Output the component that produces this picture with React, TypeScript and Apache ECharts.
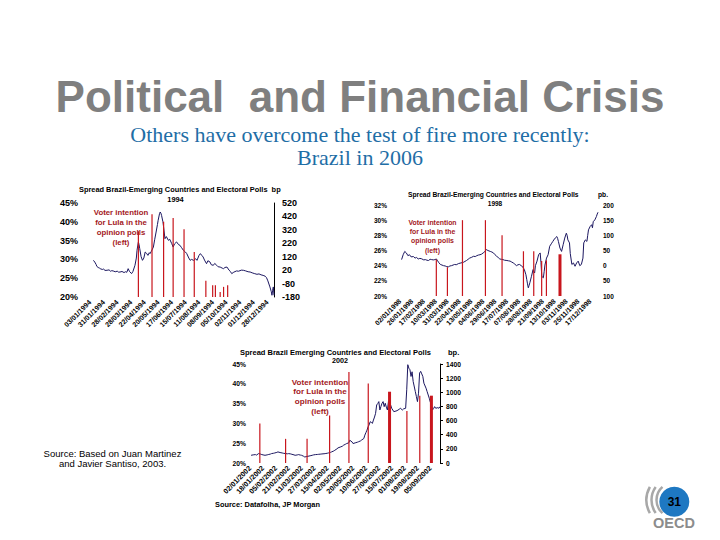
import { useEffect, useRef } from "react";
import * as echarts from "echarts";

// ---- 1994 panel ----
const labels1994 = ["03/01/1994", "31/01/1994", "28/02/1994", "28/03/1994", "22/04/1994", "20/05/1994", "17/06/1994", "15/07/1994", "11/08/1994", "08/09/1994", "05/10/1994", "02/11/1994", "01/12/1994", "28/12/1994"];
// [business day, spread bp]
const spread1994 = [[5, 93], [7, 80], [9, 62], [10, 48], [12, 40], [14, 35], [15, 31], [18, 25], [20, 28], [22, 18], [25, 19], [28, 22], [30, 12], [32, 16], [34, 14], [37, 8], [40, 12], [42, 5], [44, 6], [47, 10], [50, 2], [52, 8], [54, 4], [56, 31], [58, 10], [61, -6], [63, 10], [66, 56], [68, 110], [69, 168], [70, 200], [71, 230], [72, 210], [73, 180], [75, 120], [77, 93], [79, 110], [81, 155], [83, 145], [85, 130], [87, 150], [88, 143], [90, 160], [93, 192], [95, 250], [97, 304], [99, 360], [100, 391], [102, 440], [103, 453], [104, 445], [105, 428], [107, 380], [108, 341], [110, 254], [112, 270], [115, 242], [117, 250], [120, 217], [122, 192], [124, 215], [127, 230], [130, 210], [132, 205], [134, 190], [137, 168], [140, 155], [142, 143], [145, 110], [147, 93], [149, 100], [152, 93], [155, 105], [157, 93], [160, 130], [162, 143], [164, 130], [166, 118], [168, 95], [171, 68], [173, 90], [176, 81], [178, 60], [181, 56], [183, 70], [186, 56], [188, 45], [191, 43], [194, 35], [196, 31], [198, 40], [201, 43], [204, 20], [206, 10], [208, -6], [211, 5], [215, 14], [218, 12], [222, 20], [225, 19], [228, 15], [232, 8], [235, 6], [238, 0], [241, -5], [245, -11], [248, -8], [251, -15], [254, -19], [257, -25], [259, -36], [261, -60], [264, -105], [266, -140], [267, -167], [268, -130], [269, -105], [270, -167]];
// [business day, % voter intention]
const polls1994 = [[71, 37.5], [91, 42], [108, 40], [122, 41], [138, 38], [153, 32], [170, 24.3], [180, 23.1], [184, 23.1], [191, 21.3], [196, 22.7], [202, 23.1]];

// ---- 1998 panel ----
const labels1998 = ["02/01/1998", "26/01/1998", "17/02/1998", "10/03/1998", "31/03/1998", "22/04/1998", "13/05/1998", "04/06/1998", "29/06/1998", "17/07/1998", "07/08/1998", "28/08/1998", "21/09/1998", "13/10/1998", "03/11/1998", "25/11/1998", "17/12/1998"];
const spread1998 = [[2, 20], [4, 36], [6, 47], [8, 42], [10, 33], [12, 36], [14, 29], [17, 30], [19, 25], [21, 27], [23, 22], [25, 24], [27, 23], [30, 19], [32, 20], [34, 18], [36, 17], [38, 21], [40, 20], [42, 19], [44, 20], [46, 22], [47, 18], [49, 10], [51, 4], [53, 2], [55, 0], [57, -1], [59, -3], [61, -4], [63, -1], [65, 0], [67, 2], [69, 4], [71, 3], [74, 7], [77, 9], [80, 11], [82, 14], [84, 17], [86, 21], [88, 25], [90, 27], [93, 31], [95, 30], [97, 33], [99, 35], [101, 36], [103, 38], [105, 42], [107, 46], [109, 53], [111, 50], [114, 47], [116, 45], [118, 42], [120, 36], [122, 31], [124, 27], [126, 22], [128, 21], [130, 20], [132, 18], [135, 17], [137, 16], [139, 15], [141, 12], [143, 9], [145, 5], [147, 0], [149, 3], [151, 4], [153, 0], [155, -4], [157, -13], [159, -30], [160, -45], [161, -60], [162, -73], [163, -65], [164, -56], [166, -35], [168, -13], [169, -20], [170, -24], [171, 0], [173, 15], [175, 36], [177, 42], [178, 10], [179, -35], [181, -40], [182, -20], [183, 2], [185, 25], [187, 36], [189, 64], [191, 72], [193, 80], [195, 88], [196, 91], [198, 96], [199, 90], [200, 80], [202, 58], [204, 47], [206, 69], [208, 91], [210, 107], [211, 100], [212, 85], [214, 75], [215, 40], [217, 4], [219, 9], [221, -2], [223, 9], [225, 15], [227, 0], [229, 4], [231, 25], [232, 75], [234, 85], [236, 80], [237, 100], [238, 118], [240, 129], [242, 135], [243, 125], [244, 145], [246, 151], [248, 162], [249, 170], [250, 176]];
const polls1998 = [[47, 24.8], [61, 23.8], [80, 30], [109, 30], [130, 28], [157, 25.9], [170, 25.9], [180, 24.6], [186, 24.7]];
const pollsWide1998 = [[202, 25.5]];

// ---- 2002 panel ----
const labels2002 = ["02/01/2002", "18/01/2002", "05/02/2002", "21/02/2002", "11/03/2002", "27/03/2002", "15/04/2002", "02/05/2002", "20/05/2002", "10/06/2002", "27/06/2002", "15/07/2002", "01/08/2002", "19/08/2002", "05/09/2002"];
const spread2002 = [[1, 109], [3, 115], [5, 119], [6, 112], [8, 133], [10, 125], [11, 119], [13, 112], [14, 109], [16, 115], [17, 119], [19, 126], [20, 133], [22, 138], [23, 142], [25, 150], [26, 157], [28, 148], [30, 142], [31, 138], [33, 133], [35, 130], [36, 133], [38, 128], [39, 123], [41, 115], [42, 109], [44, 114], [45, 119], [47, 112], [48, 109], [50, 95], [51, 85], [53, 92], [54, 95], [56, 102], [58, 109], [59, 114], [61, 119], [63, 121], [64, 123], [66, 126], [67, 128], [69, 131], [70, 133], [72, 138], [73, 142], [75, 150], [76, 157], [78, 170], [79, 180], [81, 200], [82, 214], [84, 225], [86, 237], [87, 250], [89, 266], [90, 275], [92, 285], [93, 323], [94, 310], [95, 299], [96, 275], [98, 285], [100, 294], [101, 300], [103, 313], [104, 325], [106, 346], [107, 394], [108, 430], [109, 465], [110, 512], [111, 540], [112, 584], [113, 575], [114, 560], [115, 607], [116, 650], [117, 702], [118, 821], [119, 840], [120, 868], [121, 750], [122, 800], [123, 845], [124, 868], [125, 797], [126, 845], [127, 790], [128, 750], [129, 868], [130, 850], [131, 821], [132, 774], [134, 726], [136, 735], [137, 740], [139, 760], [140, 774], [142, 750], [143, 765], [145, 774], [146, 1035], [147, 1390], [148, 1340], [149, 1319], [150, 1224], [151, 1290], [152, 1153], [154, 1011], [155, 940], [156, 868], [157, 987], [158, 1272], [159, 1296], [160, 1260], [161, 1224], [162, 1129], [164, 1058], [165, 1010], [167, 916], [168, 860], [169, 821], [170, 750], [171, 770], [172, 797], [173, 774], [175, 783], [176, 774], [177, 797]];
const polls2002 = [[10, 30], [34, 26.1], [54, 26.1], [75, 32], [93, 43], [111, 40.1], [147, 33.1], [159, 37]];
const pollsWide2002 = [[130, 38], [169, 37]];

const NAVY = "#1c1760";
const RED = "#c8161d";
const DARKRED = "#a3181d";
const FONT = "'Liberation Sans', Arial, sans-serif";

const panels = [
  {
    grid: { left: 90, top: 203, width: 184, height: 94 },
    xMax: 270, xStep: 20, labels: labels1994, xFont: 7, yFont: 9,
    left: { min: 20, max: 45, interval: 5, margin: 12 },
    right: { min: -180, max: 520, interval: 100, margin: 8, line: true, ticks: false, fmt: (v: number) => String(v) },
    spread: spread1994, polls: polls1994, wide: [] as number[][],
  },
  {
    grid: { left: 400, top: 205, width: 198, height: 91 },
    xMax: 250, xStep: 15, labels: labels1998, xFont: 6.8, yFont: 6.5,
    left: { min: 20, max: 32, interval: 2, margin: 13 },
    right: { min: -100, max: 200, interval: 50, margin: 5, line: false, ticks: false, fmt: (v: number) => String(Math.abs(v)) },
    spread: spread1998, polls: polls1998, wide: pollsWide1998,
  },
  {
    grid: { left: 250, top: 364, width: 190, height: 99 },
    xMax: 177, xStep: 12, labels: labels2002, xFont: 7.2, yFont: 6.7,
    left: { min: 20, max: 45, interval: 5, margin: 4 },
    right: { min: 0, max: 1400, interval: 200, margin: 6, line: true, ticks: true, fmt: (v: number) => String(v) },
    spread: spread2002, polls: polls2002, wide: pollsWide2002,
  },
];

function txt(text: string, x: number, y: number, size: number, opts: any = {}) {
  return {
    type: "text",
    x,
    y,
    z: 10,
    style: {
      text,
      fill: opts.fill || "#000",
      fontSize: size,
      fontWeight: opts.weight || "bold",
      fontFamily: opts.family || FONT,
      align: opts.align || "center",
      verticalAlign: "middle",
      lineHeight: opts.lineHeight,
    },
  };
}

export default function App() {
  const chartRef = useRef<HTMLDivElement>(null);

  useEffect(() => {
    if (!chartRef.current) return;
    const chart = echarts.init(chartRef.current, null, { renderer: "svg" });

    const grid: any[] = [];
    const xAxis: any[] = [];
    const yAxis: any[] = [];
    const series: any[] = [];

    panels.forEach((p, i) => {
      grid.push(p.grid);
      xAxis.push({
        type: "value",
        gridIndex: i,
        min: 0,
        max: p.xMax,
        interval: p.xStep,
        axisLine: { show: false },
        axisTick: { show: false },
        splitLine: { show: false },
        axisLabel: {
          rotate: 45,
          margin: 4,
          fontSize: p.xFont,
          fontWeight: "bold",
          fontFamily: FONT,
          color: "#000",
          showMinLabel: true,
          formatter: (v: number) => (v % p.xStep === 0 ? p.labels[v / p.xStep] ?? "" : ""),
        },
      });
      yAxis.push({
        type: "value",
        gridIndex: i,
        position: "left",
        min: p.left.min,
        max: p.left.max,
        interval: p.left.interval,
        axisLine: { show: false },
        axisTick: { show: false },
        splitLine: { show: false },
        axisLabel: {
          margin: p.left.margin,
          fontSize: p.yFont,
          fontWeight: "bold",
          fontFamily: FONT,
          color: "#000",
          formatter: "{value}%",
        },
      });
      yAxis.push({
        type: "value",
        gridIndex: i,
        position: "right",
        min: p.right.min,
        max: p.right.max,
        interval: p.right.interval,
        axisLine: { show: p.right.line, lineStyle: { color: "#000", width: 1 } },
        axisTick: { show: p.right.ticks, length: 3, lineStyle: { color: "#000" } },
        splitLine: { show: false },
        axisLabel: {
          margin: p.right.margin,
          fontSize: p.yFont,
          fontWeight: "bold",
          fontFamily: FONT,
          color: "#000",
          formatter: p.right.fmt,
        },
      });
      series.push({
        type: "line",
        xAxisIndex: i,
        yAxisIndex: 2 * i + 1,
        data: p.spread,
        symbol: "none",
        lineStyle: { color: NAVY, width: 1 },
        z: 2,
      });
      series.push({
        type: "bar",
        xAxisIndex: i,
        yAxisIndex: 2 * i,
        data: p.polls,
        barWidth: 1.2,
        barGap: "-100%",
        itemStyle: { color: RED },
        z: 3,
      });
      if (p.wide.length) {
        series.push({
          type: "bar",
          xAxisIndex: i,
          yAxisIndex: 2 * i,
          data: p.wide,
          barWidth: 3,
          barGap: "-100%",
          itemStyle: { color: RED },
          z: 3,
        });
      }
    });

    const voter = "Voter intention\nfor Lula in the\nopinion polls\n(left)";
    const serif = "'Liberation Serif', serif";
    const graphic: any[] = [
      txt("Political  and Financial Crisis", 360, 96, 44, { fill: "#7f7f7f" }),
      txt("Others have overcome the test of fire more recently:", 360, 134, 22, { fill: "#1f6ea6", weight: "normal", family: serif }),
      txt("Brazil in 2006", 360, 157.5, 22, { fill: "#1f6ea6", weight: "normal", family: serif }),
      // 1994 panel texts
      txt("Spread Brazil-Emerging Countries and Electoral Polls  bp", 79, 189, 7.4, { align: "left" }),
      txt("1994", 175.5, 199, 7.4),
      txt(voter, 121, 227.7, 7.8, { fill: DARKRED, lineHeight: 10 }),
      // 1998 panel texts
      txt("Spread Brazil-Emerging Countries and Electoral Polls", 408, 194, 6.7, { align: "left" }),
      txt("pb.", 598, 194, 6.7, { align: "left" }),
      txt("1998", 495, 203.3, 6.5),
      txt(voter, 432.5, 236.4, 6.9, { fill: DARKRED, lineHeight: 9.1 }),
      // 2002 panel texts
      txt("Spread Brazil Emerging Countries and Electoral Polls", 240, 352.7, 7.5, { align: "left" }),
      txt("bp.", 448, 352.7, 7.5, { align: "left" }),
      txt("2002", 340, 360.7, 7.2),
      txt(voter, 320, 396.7, 8.1, { fill: DARKRED, lineHeight: 9.7 }),
      txt("Source: Datafolha, JP Morgan", 215, 504, 7.4, { align: "left" }),
      // sources
      txt("Source: Based on Juan Martinez", 112.5, 453.3, 9.5, { weight: "normal" }),
      txt("and Javier Santiso, 2003.", 112.5, 463.3, 9.5, { weight: "normal" }),
      // OECD logo and page number
      { type: "arc", z: 9, shape: { cx: 674, cy: 500, r: 27.5, startAngle: Math.PI - 0.5, endAngle: Math.PI + 0.5 }, style: { stroke: "#a8a8a8", lineWidth: 2.5, fill: "none" } },
      { type: "arc", z: 9, shape: { cx: 674, cy: 500, r: 22.5, startAngle: Math.PI - 0.62, endAngle: Math.PI + 0.62 }, style: { stroke: "#a8a8a8", lineWidth: 2.5, fill: "none" } },
      { type: "arc", z: 9, shape: { cx: 674, cy: 500, r: 17.5, startAngle: Math.PI - 0.85, endAngle: Math.PI + 0.85 }, style: { stroke: "#a8a8a8", lineWidth: 2.5, fill: "none" } },
      { type: "circle", z: 10, shape: { cx: 674.3, cy: 501.7, r: 15 }, style: { fill: "#1e78c2" } },
      txt("31", 674.3, 502, 12),
      txt("OECD", 674, 523, 14.5, { fill: "#8c8c8c" }),
    ];

    chart.setOption({
      animation: false,
      backgroundColor: "#fff",
      grid,
      xAxis,
      yAxis,
      series,
      graphic,
    });

    return () => {
      chart.dispose();
    };
  }, []);

  return (
    <div
      ref={chartRef}
      style={{ position: "fixed", left: 0, top: 0, width: 720, height: 540, background: "#fff" }}
    ></div>
  );
}
